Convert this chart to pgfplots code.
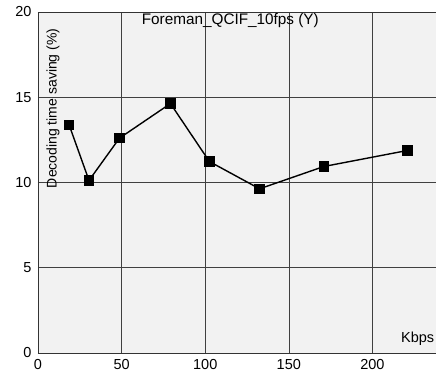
\documentclass[border=0pt]{standalone}
\usepackage{pgfplots}
\pgfplotsset{compat=1.18}
\usepackage{fontspec}
\setmainfont{Liberation Sans}
\begin{document}
\begin{tikzpicture}
\begin{axis}[
  name=ax,
  scale only axis,
  width=398pt, height=341pt,
  xmin=0, xmax=238, ymin=0, ymax=20,
  xtick={0,50,100,150,200},
  ytick={0,5,10,15,20},
  major tick length=0pt,
  grid=major,
  major grid style={black!75, line width=0.6pt},
  axis line style={black!80, line width=0.7pt},
  axis background/.style={fill=black!5},
  ticklabel style={font=\fontsize{14.5}{16}\selectfont},
  /pgf/number format/assume math mode=true,
  xticklabel style={yshift=-3pt},
  yticklabel style={xshift=-3pt},
  clip=false,
]
\addplot[black, line width=1.4pt, mark=square*, mark size=4.6pt]
  coordinates {(18.6,13.38) (30.5,10.12) (48.7,12.6) (79.2,14.63) (102.5,11.23) (132.5,9.63) (171,10.94) (221,11.88)};
\node[font=\fontsize{15.3}{17}\selectfont] at (axis cs:115,19.5) {Foreman\_QCIF\_10fps (Y)};
\node[font=\fontsize{14}{16}\selectfont, rotate=90] at (axis cs:9,14.35) {Decoding time saving (\%)};
\node[font=\fontsize{14.5}{16}\selectfont] at (axis cs:227,0.84) {Kbps};
\end{axis}
\pgfresetboundingbox
\path ([xshift=-38pt,yshift=-27pt]ax.south west) rectangle ([yshift=12pt]ax.north east);
\end{tikzpicture}
\end{document}
